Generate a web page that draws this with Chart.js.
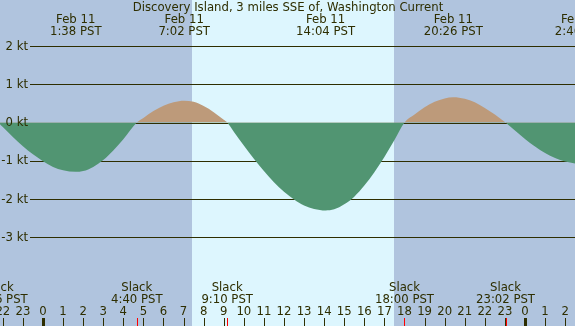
<!DOCTYPE html>
<html>
<head>
<meta charset="utf-8">
<script src="https://cdn.jsdelivr.net/npm/chart.js@4.4.1/dist/chart.umd.min.js"></script>
<style>
  html, body { margin: 0; padding: 0; background: #b0c4de; }
  #wrap { width: 575px; height: 326px; }
</style>
</head>
<body>
<div id="wrap"><canvas id="tideChart" width="575" height="326"></canvas></div>
<script>
// heures depuis minuit le 11 fév. (négatif = veille, >24 = lendemain)
const hours = [-2.23, -2, -1.5, -1, -0.5, 0, 0.5, 1, 1.63, 2, 2.5, 3, 3.5, 4, 4.67,
  5, 5.5, 6, 6.5, 7.03, 7.5, 8, 8.5, 9, 9.17,
  9.5, 10, 10.5, 11, 11.5, 12, 12.5, 13, 13.5, 14.07, 14.5, 15, 15.5, 16, 16.5, 17, 17.5, 18,
  18.5, 19, 19.5, 20, 20.43, 21, 21.5, 22, 22.5, 23.03,
  23.5, 24, 24.5, 25, 25.5, 26, 26.5];
// courant en noeuds
const knots = [0, -0.12, -0.38, -0.62, -0.83, -1.01, -1.16, -1.25, -1.29, -1.27, -1.16, -0.98, -0.73, -0.44, 0,
  0.12, 0.30, 0.44, 0.53, 0.57, 0.54, 0.43, 0.27, 0.07, 0,
  -0.24, -0.60, -0.95, -1.27, -1.56, -1.81, -2.01, -2.17, -2.26, -2.30, -2.27, -2.14, -1.94, -1.65, -1.30, -0.90, -0.46, 0,
  0.21, 0.40, 0.54, 0.63, 0.66, 0.62, 0.53, 0.38, 0.21, 0,
  -0.21, -0.43, -0.63, -0.80, -0.93, -1.02, -1.07];

const slackTimes = [-2.23, 4.67, 9.17, 18.0, 23.03];
const slackLabels = ['21:46 PST', '4:40 PST', '9:10 PST', '18:00 PST', '23:02 PST'];
const peakTimes = [1.63, 7.03, 14.07, 20.43, 26.77];
const peakLabels = ['1:38 PST', '7:02 PST', '14:04 PST', '20:26 PST', '2:46 PST'];
const yTicks = [2, 1, 0, -1, -2, -3];
const hourTicks = [-2, -1, 0, 1, 2, 3, 4, 5, 6, 7, 8, 9, 10, 11, 12, 13, 14, 15, 16, 17, 18, 19, 20, 21, 22, 23, 24, 25, 26];
const sunrise = 7.42, sunset = 17.48;

const ink = '#2e2e00';
const FONT = '11.7px "DejaVu Sans"';

const decor = {
  id: 'decor',
  beforeDatasetsDraw(chart) {
    const { ctx, scales: { x, y }, width, height } = chart;
    ctx.save();
    ctx.fillStyle = '#b0c4de';
    ctx.fillRect(0, 0, width, height);
    ctx.fillStyle = '#ddf6fe';
    const x1 = Math.round(x.getPixelForValue(sunrise)), x2 = Math.round(x.getPixelForValue(sunset));
    ctx.fillRect(x1, 0, x2 - x1, height);
    ctx.fillStyle = ink;
    yTicks.forEach(v => {
      ctx.fillRect(30, Math.round(y.getPixelForValue(v)), width - 30, 1);
    });
    ctx.restore();
  },
  afterDatasetsDraw(chart) {
    const { ctx, scales: { x, y }, width } = chart;
    ctx.save();
    ctx.fillStyle = ink;
    ctx.font = FONT;
    ctx.textBaseline = 'middle';

    ctx.textAlign = 'right';
    yTicks.forEach(v => ctx.fillText(v + ' kt', 28, y.getPixelForValue(v) + 0.5));

    ctx.textAlign = 'center';
    ctx.fillText('Discovery Island, 3 miles SSE of, Washington Current', 288, 7.5);
    peakTimes.forEach((t, i) => {
      const px = x.getPixelForValue(t);
      ctx.fillText('Feb 11', px, 19.5);
      ctx.fillText(peakLabels[i], px, 31.5);
    });
    slackTimes.forEach((t, i) => {
      const px = x.getPixelForValue(t);
      ctx.fillText('Slack', px, 287.5);
      ctx.fillText(slackLabels[i], px, 299.5);
    });
    hourTicks.forEach(h => {
      const px = x.getPixelForValue(h);
      ctx.fillText(String(((h % 24) + 24) % 24), px, 312);
      if (h % 24 === 0) {
        ctx.fillRect(Math.round(px) - 1, 318, 3, 8);
      } else {
        ctx.fillRect(Math.round(px), 318, 1, 8);
      }
    });
    ctx.fillStyle = '#ff0000';
    slackTimes.forEach(t => {
      ctx.fillRect(Math.round(x.getPixelForValue(t)), 318, 1, 8);
    });
    ctx.restore();
  }
};

new Chart(document.getElementById('tideChart'), {
  type: 'line',
  data: {
    datasets: [{
      data: hours.map((h, i) => ({ x: h, y: knots[i] })),
      borderWidth: 0,
      borderColor: 'rgba(0,0,0,0)',
      pointRadius: 0,
      cubicInterpolationMode: 'monotone',
      fill: { target: 'origin', above: '#bd9a7a', below: '#519572' }
    }]
  },
  options: {
    responsive: false,
    animation: false,
    layout: { padding: 0 },
    plugins: { legend: { display: false }, tooltip: { enabled: false } },
    scales: {
      x: { type: 'linear', min: -2.141, max: 26.49, display: false },
      y: { min: -5.32, max: 3.203, display: false }
    }
  },
  plugins: [decor]
});
</script>
</body>
</html>
